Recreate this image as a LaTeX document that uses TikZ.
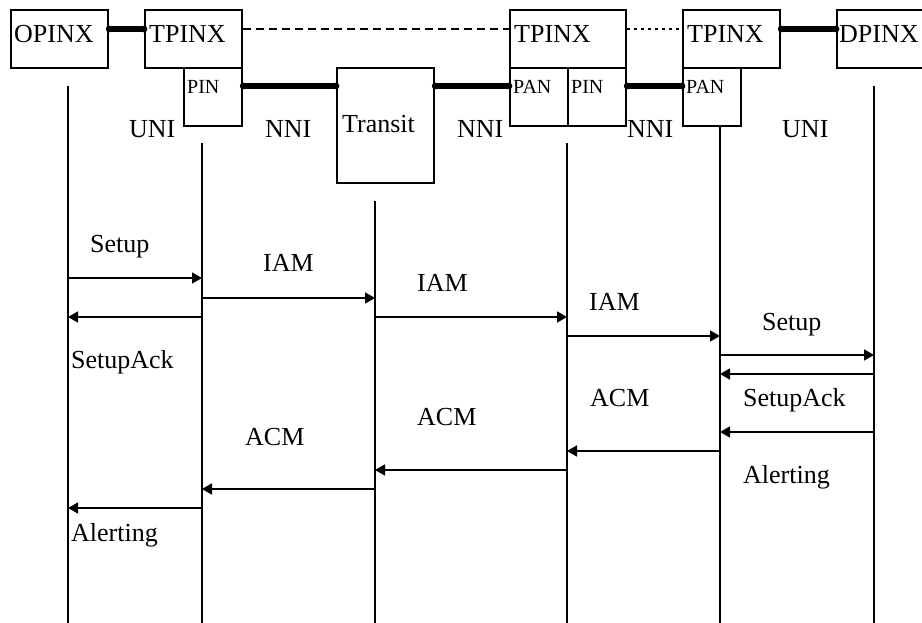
\documentclass[tikz,border=0pt]{standalone}
\usepackage{fontspec}
\setmainfont{Liberation Serif}
\usetikzlibrary{arrows.meta,calc}
\begin{document}
\begin{tikzpicture}[x=1pt,y=-1pt,
  box/.style={draw,line width=2.2pt,rectangle,inner sep=0pt,anchor=north west},
  big/.style={inner sep=0pt,anchor=base west,font=\fontsize{26}{28}\selectfont},
  small/.style={inner sep=0pt,anchor=base west,font=\fontsize{20}{22}\selectfont},
  link/.style={line width=5.5pt},
  dot/.style={fill,radius=3.4pt},
  life/.style={line width=2pt},
  lifeo/.style={line width=1.2pt},
  msg/.style={line width=1.4pt,-{Triangle[length=10pt,width=11pt]}}]
\useasboundingbox (0,0) rectangle (922,623);
% boxes
\node[box,minimum width=97pt,minimum height=58pt] (opinx) at (10,9) {};
\node[box,minimum width=97pt,minimum height=58pt] (tp1) at (144,9) {};
\node[box,minimum width=58pt,minimum height=58pt] (pin1) at (183,67) {};
\node[box,minimum width=97pt,minimum height=115pt] (transit) at (336,67) {};
\node[box,minimum width=116pt,minimum height=58pt] (tp2) at (509,9) {};
\node[box,minimum width=58pt,minimum height=58pt] (pan2) at (509,67) {};
\node[box,minimum width=58pt,minimum height=58pt] (pin2) at (567,67) {};
\node[box,minimum width=97pt,minimum height=58pt] (tp3) at (682,9) {};
\node[box,minimum width=58pt,minimum height=58pt] (pan3) at (682,67) {};
\node[box,minimum width=100pt,minimum height=58pt] (dpinx) at (836,9) {};
% box texts
\node[big] (topinx) at (14,43) {OPINX};
\node[big] (ttp1) at (149,43) {TPINX};
\node[big] (ttp2) at (514,43) {TPINX};
\node[big] (ttp3) at (687,43) {TPINX};
\node[big] (tdpinx) at (839,43) {DPINX};
\node[small] (tpin1) at (187,94) {PIN};
\node[small] (tpan2) at (513,94) {PAN};
\node[small] (tpin2) at (571,94) {PIN};
\node[small] (tpan3) at (686,94) {PAN};
\node[big] (ttransit) at (342,133) {Transit};
% interface labels
\node[big] (uni1) at (129,138) {UNI};
\node[big] (nni1) at (265,138) {NNI};
\node[big] (nni2) at (457,138) {NNI};
\node[big] (nni3) at (627,138) {NNI};
\node[big] (uni2) at (782,138) {UNI};
% links
\foreach \a/\b/\d in {opinx/tp1/20, tp3/dpinx/20, pin1/transit/19, transit/pan2/19, pin2/pan3/19}{
  \draw[link] ($(\a.north east)+(0,\d)$) -- ($(\b.north west)+(0,\d)$);
  \fill[dot] ($(\a.north east)+(0,\d)$) circle;
  \fill[dot] ($(\b.north west)+(0,\d)$) circle;
}
\draw[line width=1.4pt,dash pattern=on 8pt off 5pt] ($(tp1.north east)+(0,20)$) -- ($(tp2.north west)+(0,20)$);
\draw[line width=1.5pt,dash pattern=on 2.5pt off 4.5pt] ($(tp2.north east)+(0,20)$) -- ($(tp3.north west)+(0,20)$);
% lifelines
\coordinate (L1) at (68,0);
\coordinate (L2) at (202,0);
\coordinate (L3) at (375,0);
\coordinate (L4) at (567,0);
\coordinate (L5) at (720,0);
\coordinate (L6) at (874,0);
\draw[lifeo] ($(L1)+(0,86)$) -- ($(L1)+(0,623)$);
\draw[life] ($(L2)+(0,143)$) -- ($(L2)+(0,623)$);
\draw[life] ($(L3)+(0,201)$) -- ($(L3)+(0,623)$);
\draw[life] ($(L4)+(0,143)$) -- ($(L4)+(0,623)$);
\draw[life] (pan3.south -| L5) -- ($(L5)+(0,623)$);
\draw[lifeo] ($(L6)+(0,86)$) -- ($(L6)+(0,623)$);
% messages
\draw[msg] ($(L1)+(0,278)$) -- ($(L2)+(0,278)$);
\draw[msg] ($(L2)+(0,317)$) -- ($(L1)+(0,317)$);
\draw[msg] ($(L2)+(0,298)$) -- ($(L3)+(0,298)$);
\draw[msg] ($(L3)+(0,317)$) -- ($(L4)+(0,317)$);
\draw[msg] ($(L4)+(0,336)$) -- ($(L5)+(0,336)$);
\draw[msg] ($(L5)+(0,355)$) -- ($(L6)+(0,355)$);
\draw[msg] ($(L6)+(0,374)$) -- ($(L5)+(0,374)$);
\draw[msg] ($(L6)+(0,432)$) -- ($(L5)+(0,432)$);
\draw[msg] ($(L5)+(0,451)$) -- ($(L4)+(0,451)$);
\draw[msg] ($(L4)+(0,470)$) -- ($(L3)+(0,470)$);
\draw[msg] ($(L3)+(0,489)$) -- ($(L2)+(0,489)$);
\draw[msg] ($(L2)+(0,508)$) -- ($(L1)+(0,508)$);
% message labels
\node[big] (m1) at (90,253) {Setup};
\node[big] (m2) at (71,368) {SetupAck};
\node[big] (m3) at (263,272) {IAM};
\node[big] (m4) at (417,291) {IAM};
\node[big] (m5) at (589,310) {IAM};
\node[big] (m6) at (762,330) {Setup};
\node[big] (m7) at (743,406) {SetupAck};
\node[big] (m8) at (590,406) {ACM};
\node[big] (m9) at (417,425) {ACM};
\node[big] (m10) at (245,445) {ACM};
\node[big] (m11) at (743,483) {Alerting};
\node[big] (m12) at (71,541) {Alerting};
\end{tikzpicture}
\end{document}
